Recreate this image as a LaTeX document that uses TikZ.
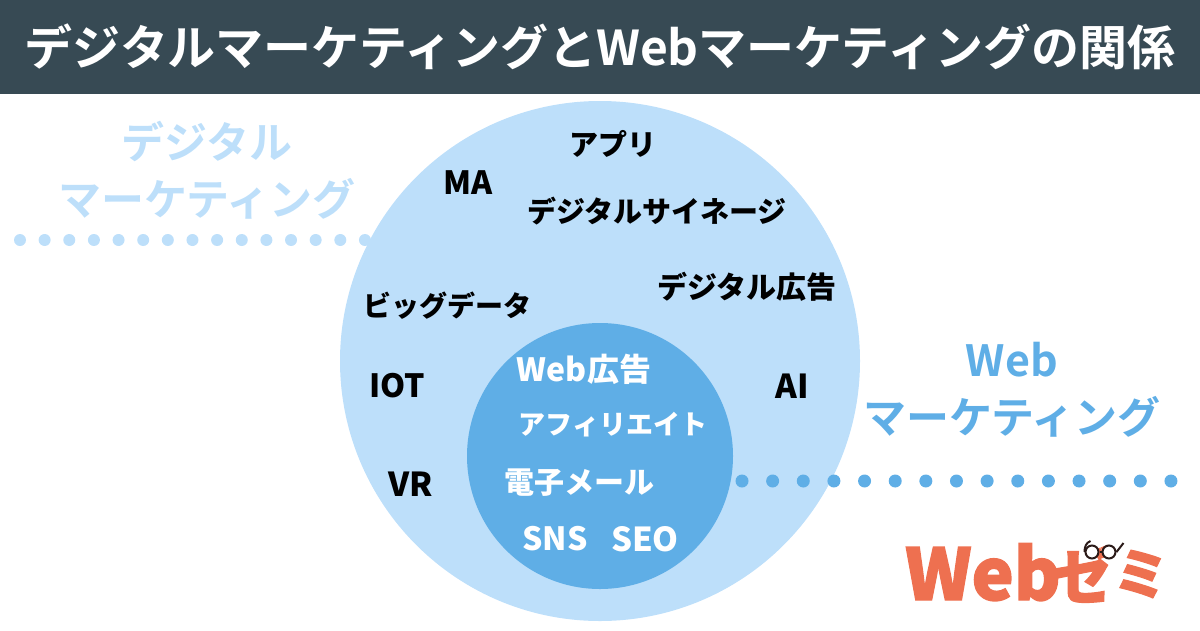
\documentclass[tikz,border=0pt]{standalone}
\usepackage{fontspec}
\setmainfont{Noto Sans CJK JP}[BoldFont={Noto Sans CJK JP Black}]
\newfontfamily\blackfont{Noto Sans CJK JP Black}
\newfontfamily\logofont[FakeBold=2]{Noto Sans CJK JP Black}
\newfontfamily\headfont{Noto Sans CJK JP Bold}
\definecolor{headbg}{HTML}{374A54}
\definecolor{outerblue}{HTML}{BDDFFA}
\definecolor{innerblue}{HTML}{5FAEE6}
\definecolor{logored}{HTML}{EE7050}
\definecolor{glassdark}{HTML}{2A1A18}
\tikzset{
  term/.style={font=\fontsize{#1}{#1}\bfseries\selectfont, text=black, inner sep=0pt},
  webterm/.style={term=#1, text=white},
  biglabel/.style={font=\fontsize{43}{57}\headfont, align=center, inner sep=0pt},
  dotline/.style={line cap=round},
  logotext/.style={font=\fontsize{#1}{#1}\logofont, text=logored, inner sep=0pt},
  lens/.style={circle, draw=glassdark, fill=white, line width=2pt, minimum size=13pt, inner sep=0pt}
}
\begin{document}
\begin{tikzpicture}[x=1pt,y=-1pt]
  \useasboundingbox (0,0) rectangle (1200,630);
  \fill[headbg] (0,0) rectangle (1200,94);
  \node[font=\fontsize{48}{48}\headfont, text=white, inner sep=0pt] (title) at (600,47)
    {デジタルマーケティングとWebマーケティングの関係};
  % circles
  \node[circle, fill=outerblue, minimum size=520pt, inner sep=0pt] (outer) at (600,361) {};
  \node[circle, fill=innerblue, minimum size=266pt, inner sep=0pt] (inner) at (600,456) {};
  % dotted leaders
  \coordinate (dl) at (20,240);
  \coordinate (dr) at (365,240);
  \coordinate (wl) at (742,481);
  \coordinate (wr) at (1171,481);
  \draw[dotline, line width=12pt, outerblue, dash pattern=on 0pt off 24.64pt] (dl) -- (dr);
  \draw[dotline, line width=13pt, innerblue, dash pattern=on 0pt off 30.64pt] (wl) -- (wr);
  \node[biglabel, text=outerblue] (digilabel) at (207,170) {デジタル\\マーケティング};
  \node[biglabel, text=innerblue] (weblabel) at (1012,390) {Web\\マーケティング};
  % outer terms
  \node[term=29] (appli) at (613,144) {アプリ};
  \node[term=32] (ma) at (468,183) {MA};
  \node[term=29] (signage) at (657,211) {デジタルサイネージ};
  \node[term=30] (digiad) at (747,287) {デジタル広告};
  \node[term=28] (bigdata) at (447,306) {ビッグデータ};
  \node[term=32] (iot) at (397,386) {IOT};
  \node[term=33] (ai) at (792,386) {AI};
  \node[term=33] (vr) at (411,484) {VR};
  % inner terms
  \node[webterm=32] (webad) at (584,369) {Web広告};
  \node[webterm=27] (affiliate) at (613,425) {アフィリエイト};
  \node[webterm=30] (email) at (579,483) {電子メール};
  \node[webterm=32] (sns) at (555,539) {SNS};
  \node[webterm=33] (seo) at (645,539) {SEO};
  % logo
  \node[logotext=71, anchor=base west] (logoweb) at (905,600) {Web};
  \node[logotext=60, anchor=center] (logoze) at (1083,574) {ゼ};
  \node[logotext=54, anchor=center, rotate=-4] (logomi) at (1141,574) {ミ};
  \node[lens] (lensl) at (1092,552) {};
  \node[lens] (lensr) at (1109,552) {};
  \draw[glassdark, line width=2pt] (lensl) -- (lensr);
  \draw[glassdark, line width=2pt] (lensl.west) to[out=90, in=200] ++(6,-11);
  \draw[glassdark, line width=2pt] (lensr.east) -- ++(7,-9);
\end{tikzpicture}
\end{document}
